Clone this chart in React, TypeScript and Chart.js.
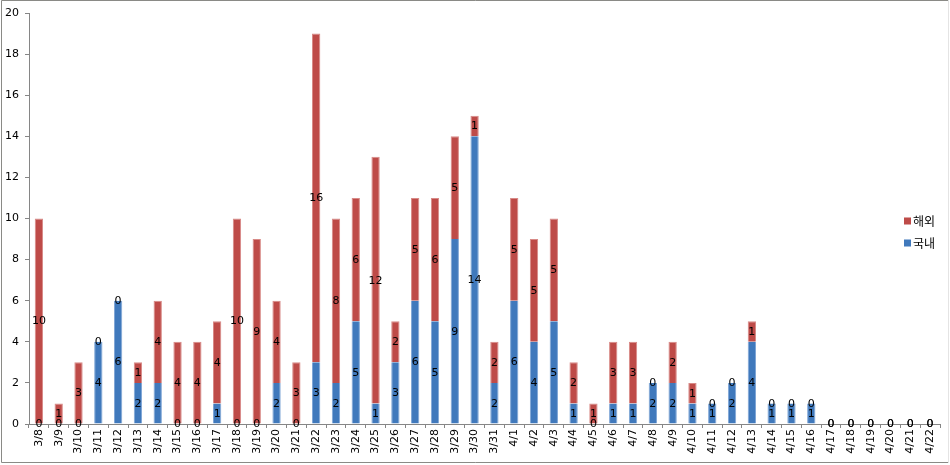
import React, { useEffect, useRef } from "react";
import { Chart, registerables } from "chart.js";

Chart.register(...registerables);

const categories = [
  "3/8", "3/9", "3/10", "3/11", "3/12", "3/13", "3/14", "3/15", "3/16", "3/17",
  "3/18", "3/19", "3/20", "3/21", "3/22", "3/23", "3/24", "3/25", "3/26", "3/27",
  "3/28", "3/29", "3/30", "3/31", "4/1", "4/2", "4/3", "4/4", "4/5", "4/6",
  "4/7", "4/8", "4/9", "4/10", "4/11", "4/12", "4/13", "4/14", "4/15", "4/16",
  "4/17", "4/18", "4/19", "4/20", "4/21", "4/22",
];

// 국내 (domestic)
const domestic = [
  0, 0, 0, 4, 6, 2, 2, 0, 0, 1,
  0, 0, 2, 0, 3, 2, 5, 1, 3, 6,
  5, 9, 14, 2, 6, 4, 5, 1, 0, 1,
  1, 2, 2, 1, 1, 2, 4, 1, 1, 1,
  0, 0, 0, 0, 0, 0,
];

// 해외 (overseas)
const overseas = [
  10, 1, 3, 0, 0, 1, 4, 4, 4, 4,
  10, 9, 4, 3, 16, 8, 6, 12, 2, 5,
  6, 5, 1, 2, 5, 5, 5, 2, 1, 3,
  3, 0, 2, 1, 0, 0, 1, 0, 0, 0,
  0, 0, 0, 0, 0, 0,
];

const yTicks = [0, 2, 4, 6, 8, 10, 12, 14, 16, 18, 20];

const seriesNames = ["국내", "해외"];
const RED = "#BE4B48";
const BLUE = "#4079BC";
const AXIS = "#868686";
const FONT = "'DejaVu Sans', Verdana, sans-serif";

const labelsPlugin = {
  id: "segLabels",
  afterDatasetsDraw(chart: any) {
    const ctx = chart.ctx;
    ctx.save();
    ctx.font = `11px ${FONT}`;
    ctx.fillStyle = "#000";
    ctx.textAlign = "center";
    ctx.textBaseline = "middle";
    chart.data.datasets.forEach((ds: any, di: number) => {
      const meta = chart.getDatasetMeta(di);
      meta.data.forEach((el: any, i: number) => {
        const v = ds.data[i];
        const y = (el.y + el.base) / 2;
        ctx.fillText(String(v), el.x, y + 0.5);
      });
    });
    ctx.restore();
  },
};

const legendPlugin = {
  id: "customLegend",
  afterDraw(chart: any) {
    const ctx = chart.ctx;
    ctx.save();
    const items = [
      { name: seriesNames[1], color: RED, y: 220.5 },
      { name: seriesNames[0], color: BLUE, y: 242.5 },
    ];
    ctx.font = `12px 'Noto Sans CJK KR', sans-serif`;
    ctx.textBaseline = "middle";
    ctx.textAlign = "left";
    items.forEach((it) => {
      ctx.fillStyle = it.color;
      ctx.fillRect(904, it.y - 3, 7, 7);
      ctx.fillStyle = "#000";
      ctx.fillText(it.name, 913, it.y + 0.5);
    });
    ctx.restore();
  },
};

const borderPlugin = {
  id: "outerBorder",
  beforeDraw(chart: any) {
    const ctx = chart.ctx;
    ctx.save();
    ctx.fillStyle = "#fff";
    ctx.fillRect(0, 0, chart.width, chart.height);
    ctx.strokeStyle = "#8a8a86";
    ctx.lineWidth = 1;
    ctx.beginPath();
    ctx.moveTo(949, 0.5);
    ctx.lineTo(1.5, 0.5);
    ctx.lineTo(1.5, 462.5);
    ctx.lineTo(949, 462.5);
    ctx.stroke();
    ctx.strokeStyle = "#e4e4e4";
    ctx.beginPath();
    ctx.moveTo(948.5, 0);
    ctx.lineTo(948.5, 463);
    ctx.stroke();
    ctx.restore();
  },
};

export default function App() {
  const ref = useRef<HTMLCanvasElement | null>(null);

  useEffect(() => {
    if (!ref.current) return;
    const chart = new Chart(ref.current, {
      type: "bar",
      data: {
        labels: categories,
        datasets: [
          {
            label: seriesNames[0],
            data: domestic,
            backgroundColor: BLUE,
            borderColor: "#7FA6D6",
            borderWidth: { left: 1, right: 1, top: 0, bottom: 0 },
            borderSkipped: false,
            barPercentage: 0.42,
            categoryPercentage: 1,
          },
          {
            label: seriesNames[1],
            data: overseas,
            backgroundColor: RED,
            borderColor: "#D88A87",
            borderWidth: { left: 1, right: 1, top: 1, bottom: 0 },
            borderSkipped: false,
            barPercentage: 0.42,
            categoryPercentage: 1,
          },
        ],
      },
      options: {
        responsive: false,
        animation: false,
        devicePixelRatio: 1,
        layout: { padding: { left: 0, top: 13, right: 10, bottom: 0 } },
        plugins: {
          legend: { display: false },
          tooltip: { enabled: false },
        },
        scales: {
          x: {
            stacked: true,
            offset: true,
            afterFit(scale: any) {
              scale.height = 41;
            },
            grid: {
              display: true,
              offset: true,
              drawOnChartArea: false,
              drawTicks: true,
              tickLength: 4,
              color: AXIS,
            },
            border: { display: true, color: AXIS },
            ticks: {
              autoSkip: false,
              minRotation: 90,
              maxRotation: 90,
              padding: 1,
              color: "#000",
              font: { family: FONT, size: 11 },
            },
          },
          y: {
            stacked: true,
            min: 0,
            max: 20,
            afterFit(scale: any) {
              scale.width = 29;
            },
            afterBuildTicks(scale: any) {
              scale.ticks = yTicks.map((v) => ({ value: v }));
            },
            grid: {
              display: true,
              drawOnChartArea: false,
              drawTicks: true,
              tickLength: 4,
              color: AXIS,
            },
            border: { display: true, color: AXIS },
            ticks: {
              padding: 6,
              color: "#000",
              font: { family: FONT, size: 11 },
            },
          },
        },
      },
      plugins: [borderPlugin, labelsPlugin, legendPlugin],
    });
    return () => chart.destroy();
  }, []);

  return (
    <div style={{ position: "fixed", left: 0, top: 0, width: 950, height: 465, background: "#fff" }}>
      <canvas ref={ref} width={950} height={465} style={{ display: "block" }} />
    </div>
  );
}
